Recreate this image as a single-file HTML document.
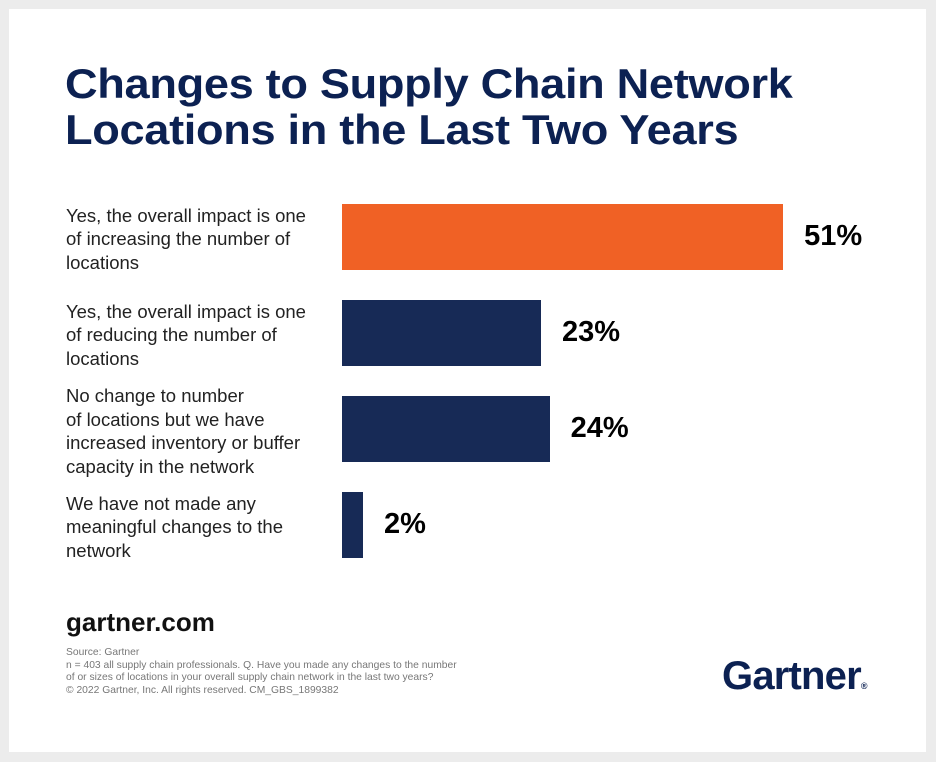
<!DOCTYPE html>
<html><head><meta charset="utf-8"><style>
body{margin:0;width:936px;height:762px;background:#ececec;font-family:"Liberation Sans",sans-serif;position:relative;overflow:hidden}
.card{position:absolute;left:9px;top:9px;width:917px;height:743px;background:#fff}
.abs{position:absolute}
h1{position:absolute;left:65px;top:61px;margin:0;font-size:42px;line-height:46px;font-weight:bold;color:#0c2152;letter-spacing:-0.3px;transform:scaleX(1.075);transform-origin:0 0;white-space:nowrap}
.lbl{position:absolute;left:66px;font-size:18.5px;line-height:23.5px;color:#222;width:275px;white-space:nowrap}
.pct{position:absolute;font-size:29px;font-weight:bold;color:#000}
</style></head><body>
<div class="card"></div>
<h1>Changes to Supply Chain Network<br>Locations in the Last Two Years</h1>
<div id="chart"></div>
<div class="abs" style="left:66px;top:607px;font-size:26px;font-weight:bold;color:#111">gartner.com</div>
<div class="abs" style="left:66px;top:647px;font-size:10.3px;line-height:12.6px;color:#777">Source: Gartner<br>n = 403 all supply chain professionals. Q. Have you made any changes to the number<br>of or sizes of locations in your overall supply chain network in the last two years?<br>© 2022 Gartner, Inc. All rights reserved. CM_GBS_1899382</div>
<div class="abs" style="left:722px;top:654px;font-size:40px;font-weight:bold;color:#0c2152;letter-spacing:-0.8px">Gartner<span style="font-size:9px;letter-spacing:0">®</span></div>
<script>
const categories=["Yes, the overall impact is one of increasing the number of locations","Yes, the overall impact is one of reducing the number of locations","No change to number of locations but we have increased inventory or buffer capacity in the network","We have not made any meaningful changes to the network"];
const labelLines=[["Yes, the overall impact is one","of increasing the number of","locations"],["Yes, the overall impact is one","of reducing the number of","locations"],["No change to number","of locations but we have","increased inventory or buffer","capacity in the network"],["We have not made any","meaningful changes to the","network"]];
const values=[51,23,24,2];
const valueLabels=["51%","23%","24%","2%"];
const colors=["#f06125","#172a56","#172a56","#172a56"];
const x0=342,pxPer=8.65,y0=204,pitch=96,bh=66;
const xs=v=>v*pxPer;
const ys=i=>y0+i*pitch;
const c=document.getElementById('chart');
values.forEach((v,i)=>{
 const w=Math.max(xs(v),21);
 const b=document.createElement('div');
 b.className='abs';
 
 
 b.style.cssText=`left:${x0}px;top:${ys(i)}px;width:${w}px;height:${bh}px;background:${colors[i]}`;
 c.appendChild(b);
 const p=document.createElement('div');
 p.className='pct';
 
 
 p.textContent=valueLabels[i];
 p.style.left=(x0+w+21)+'px';
 p.style.top=(ys(i)+bh/2-17)+'px';
 c.appendChild(p);
 const l=document.createElement('div');
 l.className='lbl';
 
 
 l.innerHTML=labelLines[i].join('<br>');
 const n=labelLines[i].length;
 l.style.top=(ys(i)+bh/2-n*23.5/2+2)+'px';
 c.appendChild(l);
});
</script>
</body></html>
